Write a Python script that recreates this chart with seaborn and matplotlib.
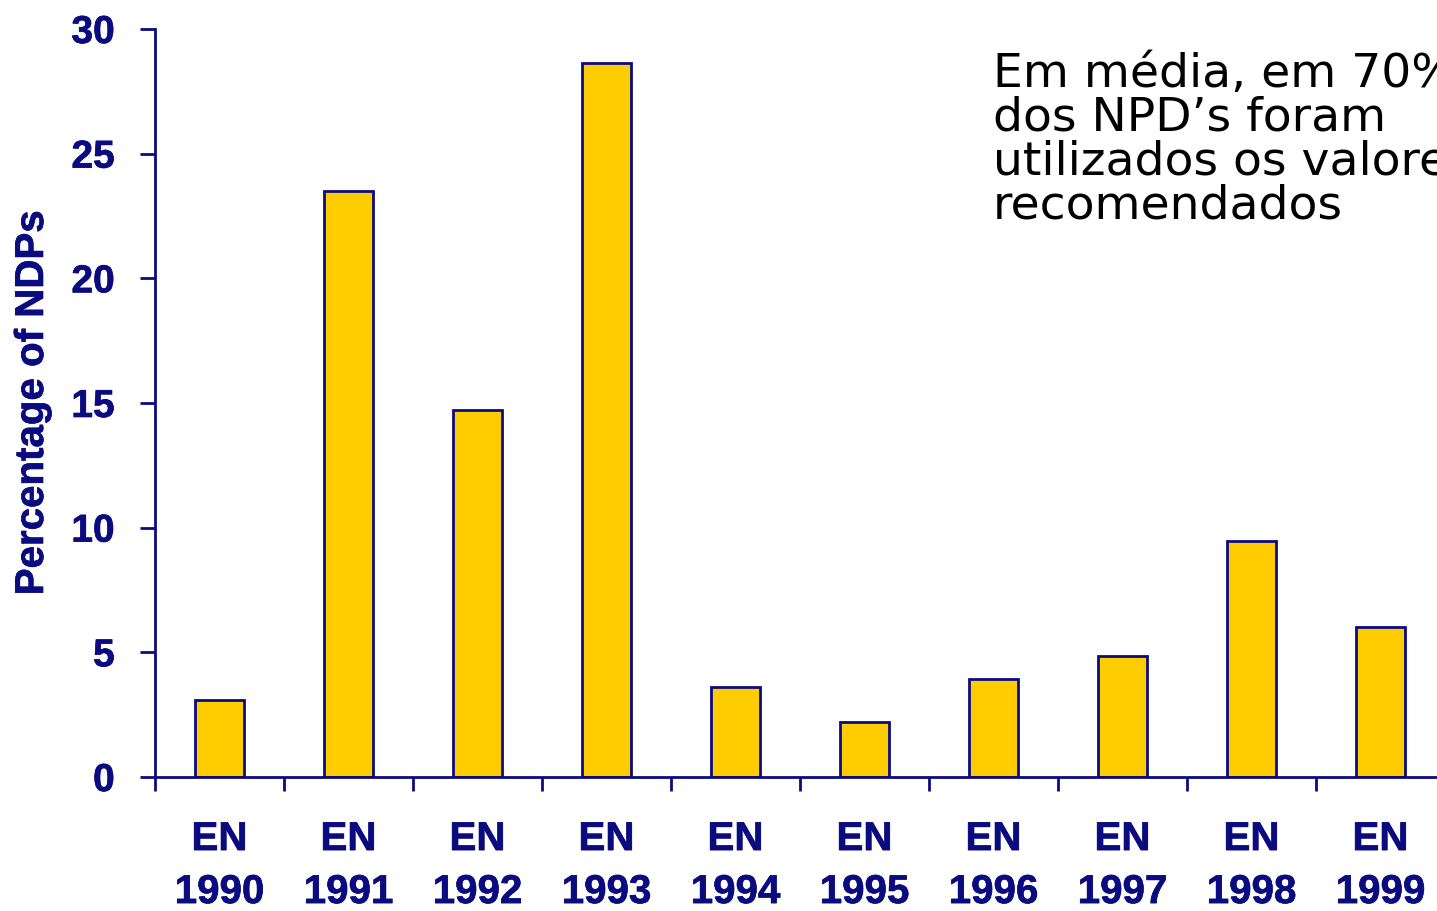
import matplotlib
matplotlib.use("Agg")
import matplotlib.pyplot as plt
import matplotlib.patheffects as pe
import seaborn as sns
import pandas as pd
import numpy as np
from matplotlib.ticker import FixedLocator

categories = ["EN\n1990", "EN\n1991", "EN\n1992", "EN\n1993", "EN\n1994",
              "EN\n1995", "EN\n1996", "EN\n1997", "EN\n1998", "EN\n1999"]
values = [3.1, 23.5, 14.7, 28.65, 3.6, 2.2, 3.95, 4.85, 9.45, 6.0]
yticks = [0, 5, 10, 15, 20, 25, 30]
ylabel = "Percentage of NDPs"
note_lines = ["Em média, em 70%", "dos NPD’s foram", "utilizados os valores", "recomendados"]

navy = "#0B0B80"
gold = "#FFCC00"

sns.set_style("white")
plt.rcParams['font.family'] = ['Liberation Sans', 'DejaVu Sans']

fig = plt.figure(figsize=(14.37, 9.12), dpi=100)
W, H = 1437, 912
left, right_px, top, bottom = 155, 155 + 10 * 129, 30, 778
ax = fig.add_axes([left / W, 1 - bottom / H, (right_px - left) / W, (bottom - top) / H])

df = pd.DataFrame({"cat": categories, "val": values})
sns.barplot(data=df, x="cat", y="val", color=gold, edgecolor=navy,
            linewidth=2.0, width=0.375, saturation=1, ax=ax)

ax.set_xlim(-0.5, 9.5)
ax.set_ylim(0, 30)
ax.set_yticks(yticks)
ax.set_yticklabels([str(t) for t in yticks])

for s in ["top", "right"]:
    ax.spines[s].set_visible(False)
for s in ["left", "bottom"]:
    ax.spines[s].set_color(navy)
    ax.spines[s].set_linewidth(2.0)

ax.xaxis.set_minor_locator(FixedLocator(np.arange(-0.5, 10, 1.0)))
ax.tick_params(axis="x", which="major", length=0, pad=31,
               labelsize=29, labelcolor=navy)
ax.tick_params(axis="x", which="minor", length=10, width=2, color=navy,
               direction="out", bottom=True)
ax.tick_params(axis="y", which="major", length=11, width=2, color=navy,
               direction="out", left=True, labelsize=28, labelcolor=navy, pad=18)
stroke = [pe.withStroke(linewidth=0.5, foreground=navy)]
for lab in ax.get_xticklabels() + ax.get_yticklabels():
    lab.set_fontweight("bold")
    lab.set_linespacing(1.5)
    lab.set_path_effects(stroke)

ax.set_xlabel("")
ax.set_ylabel(ylabel, color=navy, fontsize=29, fontweight="bold",
              path_effects=stroke)
ax.yaxis.set_label_coords((32 - left) / (right_px - left), 0.5)
ax.yaxis.label.set_va("center")

fig.text(993 / W, 1 - 52 / H, "\n".join(note_lines), fontsize=34,
         family=["DejaVu Sans"], color="black", va="top", ha="left",
         linespacing=0.97)

fig.savefig("out.png", dpi=100)
